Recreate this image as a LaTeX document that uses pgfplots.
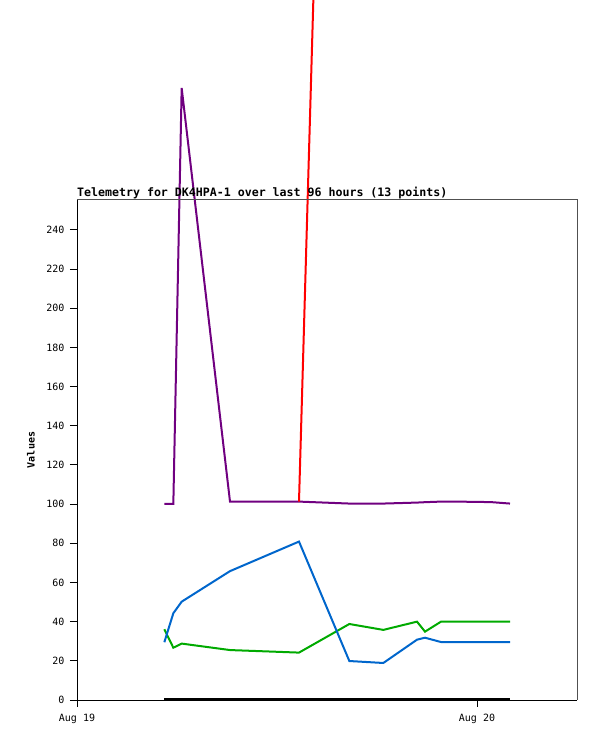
\documentclass[border=0pt]{standalone}
\usepackage{pgfplots}
\pgfplotsset{compat=1.18}
\usepackage{fontspec}
\newfontfamily\mono{DejaVu Sans Mono}
\definecolor{cpurple}{RGB}{112,0,128}
\definecolor{cblue}{RGB}{0,102,204}
\definecolor{cgreen}{RGB}{0,170,0}
\definecolor{cred}{RGB}{255,0,0}
\definecolor{cframe}{RGB}{80,80,80}
\begin{document}
\begin{tikzpicture}
\path[use as bounding box, clip] (-77bp,-41bp) rectangle (520bp,700bp);
\begin{axis}[
  at={(0,0)}, anchor=south west,
  scale only axis, width=500bp, height=500bp,
  xmin=0, xmax=30, ymin=0, ymax=255.3,
  clip=false,
  axis lines=left,
  axis line style={-, line width=1bp, black},
  xtick={0,24}, xticklabels={Aug 19, Aug 20},
  ytick={0,20,...,240},
  tick align=outside,
  major tick length=7bp,
  tick style={line width=1bp, black},
  /pgf/number format/assume math mode=true,
  ticklabel style={font=\mono\fontsize{10bp}{10bp}\selectfont},
  yticklabel style={xshift=-2bp},
  xticklabel style={yshift=-4bp},
  title={Telemetry for DK4HPA-1 over last 96 hours (13 points)},
  title style={at={(axis description cs:0,1)}, anchor=south west, inner sep=0pt, yshift=-5bp, font=\mono\bfseries\fontsize{11.6bp}{12bp}\selectfont},
  ylabel={Values},
  ylabel style={at={(axis description cs:-0.092,0.5)}, anchor=center, font=\mono\bfseries\fontsize{10bp}{10bp}\selectfont},
]
% zero series
\addplot[black, line width=2.5bp] coordinates {(5.24,0.5) (25.98,0.5)};
% green
\addplot[cgreen, line width=2bp] coordinates {
(5.24,36.1) (5.78,26.7) (6.28,28.8) (9.18,25.5) (13.32,24.2) (16.34,38.8)
(18.38,35.8) (20.40,40.0) (20.88,34.9) (21.84,40.0) (23.88,40.0) (24.90,40.0) (25.98,40.0)};
% blue
\addplot[cblue, line width=2bp] coordinates {
(5.24,29.5) (5.78,44.3) (6.28,50.2) (9.18,65.8) (13.32,80.9) (16.34,19.9)
(18.38,18.9) (20.40,30.8) (20.88,31.8) (21.84,29.6) (23.88,29.6) (24.90,29.6) (25.98,29.6)};
% purple
\addplot[cpurple, line width=2bp] coordinates {
(5.24,100.1) (5.78,100.1) (6.28,312.5) (9.18,101.3) (13.32,101.3) (16.34,100.3)
(18.38,100.3) (20.40,100.8) (20.88,101.0) (21.84,101.3) (23.88,101.2) (24.90,101.0) (25.98,100.3)};
% red
\addplot[cred, line width=2bp] coordinates {(13.32,101.3) (16.34,1000)};
\end{axis}
\draw[cframe, line width=1bp] (current axis.north west) -- (current axis.north east) -- (current axis.south east);
\end{tikzpicture}
\end{document}
